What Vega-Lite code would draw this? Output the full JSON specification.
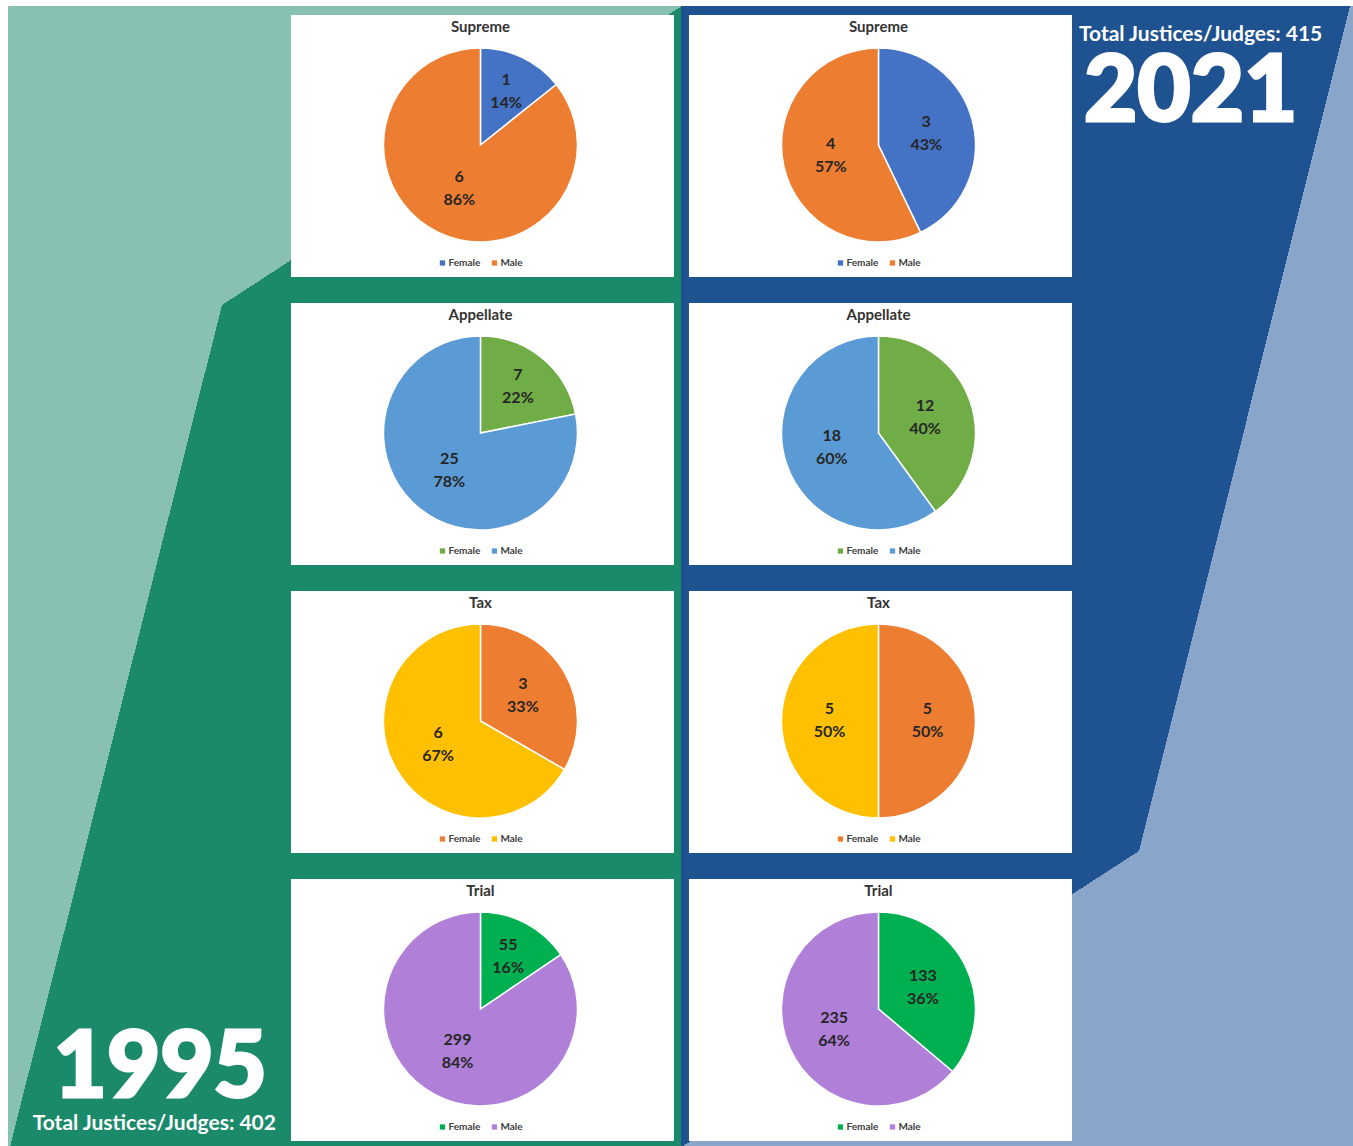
{
  "$schema": "https://vega.github.io/schema/vega-lite/v6.json",
  "width": 1353,
  "height": 1146,
  "autosize": {"type": "fit", "contains": "padding"},
  "padding": 0,
  "background": "white",
  "config": {"view": {"stroke": null}, "font": "Lato"},
  "datasets": {
    "pies": [
      {"year": "1995", "court": "Supreme", "sex": "Female", "count": 1, "pct": 0.14},
      {"year": "1995", "court": "Supreme", "sex": "Male", "count": 6, "pct": 0.86},
      {"year": "1995", "court": "Appellate", "sex": "Female", "count": 7, "pct": 0.22},
      {"year": "1995", "court": "Appellate", "sex": "Male", "count": 25, "pct": 0.78},
      {"year": "1995", "court": "Tax", "sex": "Female", "count": 3, "pct": 0.33},
      {"year": "1995", "court": "Tax", "sex": "Male", "count": 6, "pct": 0.67},
      {"year": "1995", "court": "Trial", "sex": "Female", "count": 55, "pct": 0.16},
      {"year": "1995", "court": "Trial", "sex": "Male", "count": 299, "pct": 0.84},
      {"year": "2021", "court": "Supreme", "sex": "Female", "count": 3, "pct": 0.43},
      {"year": "2021", "court": "Supreme", "sex": "Male", "count": 4, "pct": 0.57},
      {"year": "2021", "court": "Appellate", "sex": "Female", "count": 12, "pct": 0.40},
      {"year": "2021", "court": "Appellate", "sex": "Male", "count": 18, "pct": 0.60},
      {"year": "2021", "court": "Tax", "sex": "Female", "count": 5, "pct": 0.50},
      {"year": "2021", "court": "Tax", "sex": "Male", "count": 5, "pct": 0.50},
      {"year": "2021", "court": "Trial", "sex": "Female", "count": 133, "pct": 0.36},
      {"year": "2021", "court": "Trial", "sex": "Male", "count": 235, "pct": 0.64}
    ],
    "totals": [
      {"year": "1995", "total": 402, "caption": "Total Justices/Judges: 402"},
      {"year": "2021", "total": 415, "caption": "Total Justices/Judges: 415"}
    ]
  },
  "layer": [
    {"data": {"values": [{}]}, "mark": {"type": "rect", "fill": "#1B8A6B", "opacity": 1}, "encoding": {}},
    {"data": {"values": [{}]}, "mark": {"type": "rect", "opacity": 1, "fill": {"gradient": "linear", "x1": 0.07585, "y1": -0.19002, "x2": 0.58195, "y2": 0.46926, "stops": [{"offset": 0, "color": "#88C0B2"}, {"offset": 0.5, "color": "#88C0B2"}, {"offset": 0.5, "color": "rgba(0,0,0,0)"}, {"offset": 1, "color": "rgba(0,0,0,0)"}]}}, "encoding": {}},
    {"data": {"values": [{}]}, "mark": {"type": "rect", "opacity": 1, "fill": {"gradient": "linear", "x1": -0.50705, "y1": 0.44003, "x2": 0.70587, "y2": 0.69871, "stops": [{"offset": 0, "color": "#88C0B2"}, {"offset": 0.5, "color": "#88C0B2"}, {"offset": 0.5, "color": "rgba(0,0,0,0)"}, {"offset": 1, "color": "rgba(0,0,0,0)"}]}}, "encoding": {}},
    {"data": {"values": [{}]}, "mark": {"type": "rect", "opacity": 1, "fill": {"gradient": "linear", "x1": 0, "y1": 0, "x2": 1, "y2": 0, "stops": [{"offset": 0, "color": "rgba(0,0,0,0)"}, {"offset": 0.50333, "color": "rgba(0,0,0,0)"}, {"offset": 0.50333, "color": "#1F5291"}, {"offset": 1, "color": "#1F5291"}]}}, "encoding": {}},
    {"data": {"values": [{}]}, "mark": {"type": "rect", "opacity": 1, "fill": {"gradient": "linear", "x1": 0.18247, "y1": 0.21796, "x2": 1.65715, "y2": 0.52986, "stops": [{"offset": 0, "color": "rgba(0,0,0,0)"}, {"offset": 0.5, "color": "rgba(0,0,0,0)"}, {"offset": 0.5, "color": "#89A5C9"}, {"offset": 1, "color": "#89A5C9"}]}}, "encoding": {}},
    {"data": {"values": [{}]}, "mark": {"type": "rect", "opacity": 1, "fill": {"gradient": "linear", "x1": 0.4327, "y1": 0.25918, "x2": 1.2007, "y2": 1.26438, "stops": [{"offset": 0, "color": "rgba(0,0,0,0)"}, {"offset": 0.5, "color": "rgba(0,0,0,0)"}, {"offset": 0.5, "color": "#89A5C9"}, {"offset": 1, "color": "#89A5C9"}]}}, "encoding": {}},
    {"data": {"values": [{}]}, "mark": {"type": "rect", "opacity": 1, "fill": {"gradient": "linear", "x1": 0, "y1": 0, "x2": 1, "y2": 0, "stops": [{"offset": 0, "color": "#FFFFFF"}, {"offset": 0.005913, "color": "#FFFFFF"}, {"offset": 0.005913, "color": "rgba(0,0,0,0)"}, {"offset": 1, "color": "rgba(0,0,0,0)"}]}}, "encoding": {}},
    {"data": {"values": [{}]}, "mark": {"type": "rect", "opacity": 1, "fill": {"gradient": "linear", "x1": 0, "y1": 0, "x2": 0, "y2": 1, "stops": [{"offset": 0, "color": "#FFFFFF"}, {"offset": 0.005236, "color": "#FFFFFF"}, {"offset": 0.005236, "color": "rgba(0,0,0,0)"}, {"offset": 1, "color": "rgba(0,0,0,0)"}]}}, "encoding": {}},
    {
      "data": {"name": "pies"},
      "transform": [{"aggregate": [{"op": "sum", "field": "count", "as": "n"}], "groupby": ["year", "court"]}],
      "mark": {"type": "rect", "fill": "white", "opacity": 1},
      "encoding": {
        "x": {"field": "year", "type": "nominal", "axis": null, "scale": {"domain": ["1995", "2021"], "paddingInner": 0.0377, "paddingOuter": 0.7186, "align": 0.5087}},
        "y": {"field": "court", "type": "nominal", "axis": null, "scale": {"domain": ["Supreme", "Appellate", "Tax", "Trial"], "paddingInner": 0.0903, "paddingOuter": 0.0347, "align": 0.75}}
      }
    },
    {
      "data": {"name": "pies"},
      "transform": [{"aggregate": [{"op": "sum", "field": "count", "as": "n"}], "groupby": ["year", "court"]}],
      "mark": {"type": "text", "fontSize": 15, "fontWeight": "bold", "color": "#333333", "baseline": "middle", "align": "center", "dy": 12, "dx": -2},
      "encoding": {
        "x": {"field": "year", "type": "nominal", "axis": null},
        "y": {"field": "court", "type": "nominal", "axis": null, "bandPosition": 0},
        "text": {"field": "court"}
      }
    },
    {
      "data": {"name": "pies"},
      "transform": [{"stack": "count", "groupby": ["year", "court"], "sort": [{"field": "sex", "order": "ascending"}], "offset": "normalize", "as": ["t0", "t1"]}],
      "mark": {"type": "arc", "radius": 97, "stroke": "white", "strokeWidth": 1.5, "opacity": 1, "xOffset": -2, "yOffset": -1},
      "encoding": {
        "x": {"field": "year", "type": "nominal", "axis": null},
        "y": {"field": "court", "type": "nominal", "axis": null},
        "theta": {"field": "t0", "type": "quantitative", "stack": null, "scale": {"domain": [0, 1]}},
        "theta2": {"field": "t1"},
        "color": {"condition": [
          {"test": "datum.court==='Supreme' && datum.sex==='Female'", "value": "#4472C4"},
          {"test": "datum.court==='Supreme'", "value": "#ED7D31"},
          {"test": "datum.court==='Appellate' && datum.sex==='Female'", "value": "#70AD47"},
          {"test": "datum.court==='Appellate'", "value": "#5B9BD5"},
          {"test": "datum.court==='Tax' && datum.sex==='Female'", "value": "#ED7D31"},
          {"test": "datum.court==='Tax'", "value": "#FFC000"},
          {"test": "datum.sex==='Female'", "value": "#00B050"}
        ], "value": "#B07FD8"}
      }
    },
    {
      "data": {"name": "pies"},
      "transform": [
        {"stack": "count", "groupby": ["year", "court"], "sort": [{"field": "sex", "order": "ascending"}], "offset": "normalize", "as": ["t0", "t1"]},
        {"fold": ["t0", "t1"], "as": ["edge", "tv"]},
        {"aggregate": [{"op": "mean", "field": "tv", "as": "mid"}], "groupby": ["year", "court", "sex", "count", "pct"]},
        {"filter": {"field": "pct", "gte": 0.25}}
      ],
      "mark": {"type": "text", "radius": 49, "fontSize": 16, "fontWeight": "bold", "color": "#262626", "baseline": "middle", "align": "center", "dy": -12, "xOffset": -2, "yOffset": -1},
      "encoding": {
        "x": {"field": "year", "type": "nominal", "axis": null},
        "y": {"field": "court", "type": "nominal", "axis": null},
        "theta": {"field": "mid", "type": "quantitative", "stack": null, "scale": {"domain": [0, 1]}},
        "text": {"field": "count"}
      }
    },
    {
      "data": {"name": "pies"},
      "transform": [
        {"stack": "count", "groupby": ["year", "court"], "sort": [{"field": "sex", "order": "ascending"}], "offset": "normalize", "as": ["t0", "t1"]},
        {"fold": ["t0", "t1"], "as": ["edge", "tv"]},
        {"aggregate": [{"op": "mean", "field": "tv", "as": "mid"}], "groupby": ["year", "court", "sex", "count", "pct"]},
        {"filter": {"field": "pct", "gte": 0.25}}
      ],
      "mark": {"type": "text", "radius": 49, "fontSize": 16, "fontWeight": "bold", "color": "#262626", "baseline": "middle", "align": "center", "dy": 11, "xOffset": -2, "yOffset": -1},
      "encoding": {
        "x": {"field": "year", "type": "nominal", "axis": null},
        "y": {"field": "court", "type": "nominal", "axis": null},
        "theta": {"field": "mid", "type": "quantitative", "stack": null, "scale": {"domain": [0, 1]}},
        "text": {"field": "pct", "format": ".0%"}
      }
    },
    {
      "data": {"name": "pies"},
      "transform": [
        {"stack": "count", "groupby": ["year", "court"], "sort": [{"field": "sex", "order": "ascending"}], "offset": "normalize", "as": ["t0", "t1"]},
        {"fold": ["t0", "t1"], "as": ["edge", "tv"]},
        {"aggregate": [{"op": "mean", "field": "tv", "as": "mid"}], "groupby": ["year", "court", "sex", "count", "pct"]},
        {"filter": {"field": "pct", "lt": 0.25}}
      ],
      "mark": {"type": "text", "radius": 59, "fontSize": 16, "fontWeight": "bold", "color": "#262626", "baseline": "middle", "align": "center", "dy": -12, "xOffset": -2, "yOffset": -1},
      "encoding": {
        "x": {"field": "year", "type": "nominal", "axis": null},
        "y": {"field": "court", "type": "nominal", "axis": null},
        "theta": {"field": "mid", "type": "quantitative", "stack": null, "scale": {"domain": [0, 1]}},
        "text": {"field": "count"}
      }
    },
    {
      "data": {"name": "pies"},
      "transform": [
        {"stack": "count", "groupby": ["year", "court"], "sort": [{"field": "sex", "order": "ascending"}], "offset": "normalize", "as": ["t0", "t1"]},
        {"fold": ["t0", "t1"], "as": ["edge", "tv"]},
        {"aggregate": [{"op": "mean", "field": "tv", "as": "mid"}], "groupby": ["year", "court", "sex", "count", "pct"]},
        {"filter": {"field": "pct", "lt": 0.25}}
      ],
      "mark": {"type": "text", "radius": 59, "fontSize": 16, "fontWeight": "bold", "color": "#262626", "baseline": "middle", "align": "center", "dy": 11, "xOffset": -2, "yOffset": -1},
      "encoding": {
        "x": {"field": "year", "type": "nominal", "axis": null},
        "y": {"field": "court", "type": "nominal", "axis": null},
        "theta": {"field": "mid", "type": "quantitative", "stack": null, "scale": {"domain": [0, 1]}},
        "text": {"field": "pct", "format": ".0%"}
      }
    },
    {
      "data": {"name": "pies"},
      "transform": [{"filter": {"field": "sex", "equal": "Female"}}],
      "mark": {"type": "square", "size": 28, "opacity": 1, "xOffset": -40, "yOffset": -14},
      "encoding": {
        "x": {"field": "year", "type": "nominal", "axis": null},
        "y": {"field": "court", "type": "nominal", "axis": null, "bandPosition": 1},
        "color": {"condition": [
          {"test": "datum.court==='Supreme'", "value": "#4472C4"},
          {"test": "datum.court==='Appellate'", "value": "#70AD47"},
          {"test": "datum.court==='Tax'", "value": "#ED7D31"}
        ], "value": "#00B050"}
      }
    },
    {
      "data": {"name": "pies"},
      "transform": [{"filter": {"field": "sex", "equal": "Male"}}],
      "mark": {"type": "square", "size": 28, "opacity": 1, "xOffset": 12, "yOffset": -14},
      "encoding": {
        "x": {"field": "year", "type": "nominal", "axis": null},
        "y": {"field": "court", "type": "nominal", "axis": null, "bandPosition": 1},
        "color": {"condition": [
          {"test": "datum.court==='Supreme'", "value": "#ED7D31"},
          {"test": "datum.court==='Appellate'", "value": "#5B9BD5"},
          {"test": "datum.court==='Tax'", "value": "#FFC000"}
        ], "value": "#B07FD8"}
      }
    },
    {
      "data": {"name": "pies"},
      "transform": [{"filter": {"field": "sex", "equal": "Female"}}],
      "mark": {"type": "text", "fontSize": 10, "fontWeight": "bold", "color": "#404040", "align": "left", "baseline": "middle", "dx": -34, "dy": -14},
      "encoding": {
        "x": {"field": "year", "type": "nominal", "axis": null},
        "y": {"field": "court", "type": "nominal", "axis": null, "bandPosition": 1},
        "text": {"field": "sex"}
      }
    },
    {
      "data": {"name": "pies"},
      "transform": [{"filter": {"field": "sex", "equal": "Male"}}],
      "mark": {"type": "text", "fontSize": 10, "fontWeight": "bold", "color": "#404040", "align": "left", "baseline": "middle", "dx": 18, "dy": -14},
      "encoding": {
        "x": {"field": "year", "type": "nominal", "axis": null},
        "y": {"field": "court", "type": "nominal", "axis": null, "bandPosition": 1},
        "text": {"field": "sex"}
      }
    },
    {
      "data": {"name": "totals"},
      "transform": [{"filter": {"field": "year", "equal": "2021"}}],
      "mark": {"type": "text", "fontSize": 92, "fontWeight": 900, "color": "white", "stroke": "white", "strokeWidth": 3, "align": "left", "baseline": "alphabetic", "dx": 12, "dy": 106},
      "encoding": {
        "x": {"field": "year", "type": "nominal", "axis": null, "bandPosition": 1},
        "y": {"datum": "Supreme", "type": "nominal", "axis": null, "bandPosition": 0},
        "text": {"field": "year"}
      }
    },
    {
      "data": {"name": "totals"},
      "transform": [{"filter": {"field": "year", "equal": "2021"}}],
      "mark": {"type": "text", "fontSize": 21, "fontWeight": "bold", "color": "white", "align": "left", "baseline": "alphabetic", "dx": 7, "dy": 26},
      "encoding": {
        "x": {"field": "year", "type": "nominal", "axis": null, "bandPosition": 1},
        "y": {"datum": "Supreme", "type": "nominal", "axis": null, "bandPosition": 0},
        "text": {"field": "caption"}
      }
    },
    {
      "data": {"name": "totals"},
      "transform": [{"filter": {"field": "year", "equal": "1995"}}],
      "mark": {"type": "text", "fontSize": 92, "fontWeight": 900, "color": "white", "stroke": "white", "strokeWidth": 3, "align": "right", "baseline": "alphabetic", "dx": -24, "dy": -44},
      "encoding": {
        "x": {"field": "year", "type": "nominal", "axis": null, "bandPosition": 0},
        "y": {"datum": "Trial", "type": "nominal", "axis": null, "bandPosition": 1},
        "text": {"field": "year"}
      }
    },
    {
      "data": {"name": "totals"},
      "transform": [{"filter": {"field": "year", "equal": "1995"}}],
      "mark": {"type": "text", "fontSize": 21, "fontWeight": "bold", "color": "white", "align": "right", "baseline": "alphabetic", "dx": -15, "dy": -11},
      "encoding": {
        "x": {"field": "year", "type": "nominal", "axis": null, "bandPosition": 0},
        "y": {"datum": "Trial", "type": "nominal", "axis": null, "bandPosition": 1},
        "text": {"field": "caption"}
      }
    }
  ]
}
